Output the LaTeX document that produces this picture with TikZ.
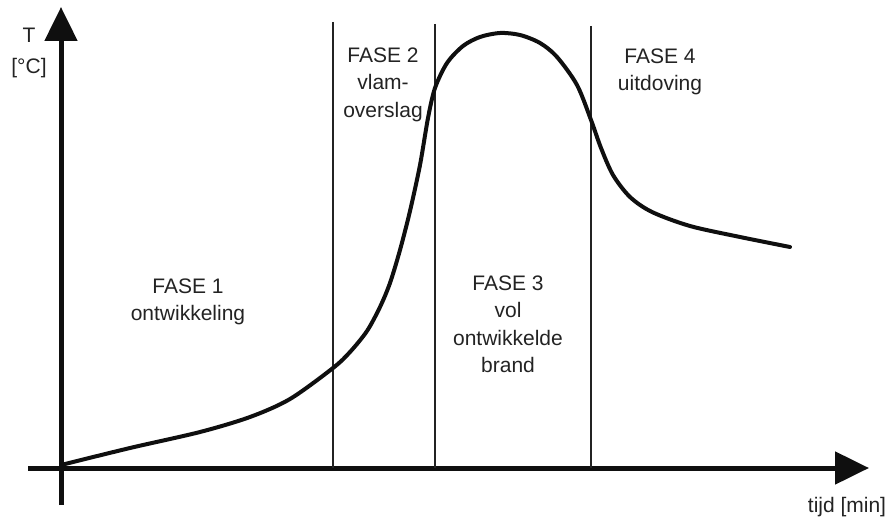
\documentclass[tikz,border=0pt]{standalone}
\usepackage{fontspec}
\setmainfont{Liberation Sans}
\usepackage{tikz}
\usetikzlibrary{arrows.meta,positioning}
\usepackage{xcolor}
\definecolor{fsblack}{RGB}{15,15,15}
\definecolor{fsgrey}{RGB}{35,35,35}
\tikzstyle{axis} = [line width=2.5pt,color=fsblack,-{Triangle[length=17pt,width=16pt]}]
\tikzstyle{phaseline} = [line width=0.8pt,color=fsgrey]
\tikzstyle{firecurve} = [line width=2pt,color=fsblack,line cap=round]
\tikzstyle{lbl} = [inner sep=0pt,align=center,text=fsgrey,font=\fontsize{10.5}{13.75}\selectfont]

\begin{document}
\begin{tikzpicture}[x=0.5pt,y=-0.5pt]
\useasboundingbox (0,0) rectangle (892,518);

% Axes
\coordinate (o) at (61,468);
\coordinate (xstart) at (28,468);
\coordinate (xend) at (869,468);
\coordinate (ystart) at (61,505);
\coordinate (yend) at (61,7);
\draw[axis] (xstart) -- (xend);
\draw[axis] (ystart) -- (yend);
\node[lbl, anchor=north] (tlabel) at (29,28) {T\\[1.5pt]{}[°C]};
\node[lbl, anchor=base] (tijd) at (847,512) {tijd [min]};

% Phase borders
\coordinate (b1) at (333,22);
\coordinate (b2) at (435,24);
\coordinate (b3) at (591,26);
\draw[phaseline] (b1) -- (b1 |- o);
\draw[phaseline] (b2) -- (b2 |- o);
\draw[phaseline] (b3) -- (b3 |- o);

% Temperature curve
\draw[firecurve] plot[smooth, tension=0.5] coordinates {
  (61,465) (130,448) (200,432) (250,417) (290,399) (333,368) (350,352)
  (367,331) (380,307) (390,283) (400,250) (410,211) (420,165) (428,118)
  (435,88) (447,63) (463,46) (480,37) (500,33) (520,35) (540,43) (557,57)
  (577,85) (591,120) (601,148) (613,175) (630,197) (652,212) (690,226)
  (740,237) (790,247)};

% Phase labels
\node[lbl, anchor=north] (fase1) at (188,278) {FASE 1\\ontwikkeling};
\node[lbl, anchor=north] (fase2) at (383,47) {FASE 2\\vlam-\\overslag};
\node[lbl, anchor=north] (fase3) at (508,275) {FASE 3\\vol\\ontwikkelde\\brand};
\node[lbl, anchor=north] (fase4) at (660,48) {FASE 4\\uitdoving};
\end{tikzpicture}
\end{document}
